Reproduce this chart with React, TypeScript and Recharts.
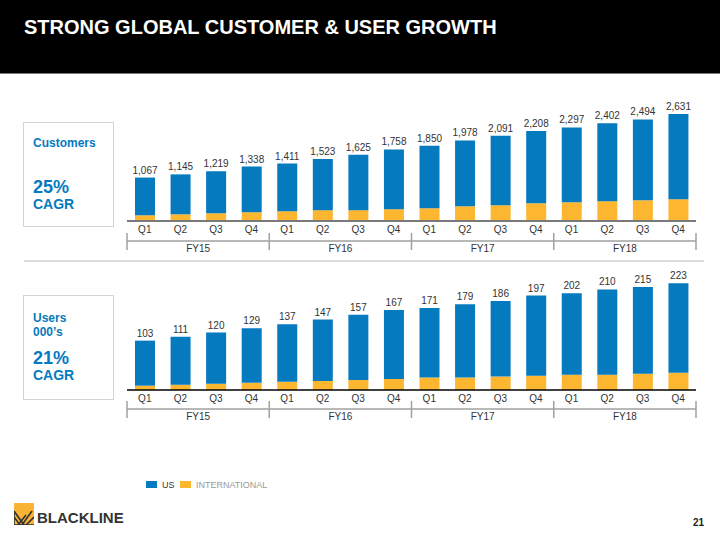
import { BarChart, Bar, XAxis, YAxis, LabelList } from "recharts";

const quarters = ["Q1", "Q2", "Q3", "Q4", "Q1", "Q2", "Q3", "Q4", "Q1", "Q2", "Q3", "Q4", "Q1", "Q2", "Q3", "Q4"];
const fiscalYears = ["FY15", "FY16", "FY17", "FY18"];

const customersTotal = [1067, 1145, 1219, 1338, 1411, 1523, 1625, 1758, 1850, 1978, 2091, 2208, 2297, 2402, 2494, 2631];
const customersIntl = [140, 165, 190, 215, 240, 265, 265, 290, 313, 362, 387, 436, 461, 486, 510, 535];

const usersTotal = [103, 111, 120, 129, 137, 147, 157, 167, 171, 179, 186, 197, 202, 210, 215, 223];
const usersIntl = [9, 11, 13, 15, 17, 19, 21, 23, 26, 26, 28, 30, 32, 32, 34, 36];

const BLUE = "#057ABF";
const YELLOW = "#FDB62F";
const FONT = "'Liberation Sans', Arial, Helvetica, sans-serif";

const CHART_W = 720;
const M_LEFT = 127;
const M_RIGHT = 24;
const BAND = (CHART_W - M_LEFT - M_RIGHT) / quarters.length;

const build = (total: number[], intl: number[]) =>
  quarters.map((q, i) => ({
    q,
    fy: fiscalYears[Math.floor(i / 4)],
    total: total[i],
    intl: intl[i],
    us: total[i] - intl[i],
  }));

const QTick = (props: any) => {
  const { x, y, payload } = props;
  return (
    <text x={x} y={y + 12} textAnchor="middle" fontSize={10} fill="#333" fontFamily={FONT}>
      {payload.value}
    </text>
  );
};

const FyTick = (props: any) => {
  const { x, y, index } = props;
  const stroke = "#a0a0a0";
  return (
    <g>
      {index % 4 === 0 && (
        <line x1={x - BAND / 2} x2={x - BAND / 2} y1={y - 8} y2={y + 9} stroke={stroke} strokeWidth={1.5} />
      )}
      {index === quarters.length - 1 && (
        <line x1={x + BAND / 2} x2={x + BAND / 2} y1={y - 8} y2={y + 9} stroke={stroke} strokeWidth={1.5} />
      )}
      {index % 4 === 1 && (
        <text x={x + BAND / 2} y={y + 11} textAnchor="middle" fontSize={10} fill="#333" fontFamily={FONT}>
          {fiscalYears[Math.floor(index / 4)]}
        </text>
      )}
    </g>
  );
};

type ChartProps = {
  data: any[];
  top: number;
  height: number;
  margin: { top: number; bottom: number };
  max: number;
  axisColor: string;
  axisWidth: number;
  qHeight: number;
  fyHeight: number;
};

function GrowthChart({ data, top, height, margin, max, axisColor, axisWidth, qHeight, fyHeight }: ChartProps) {
  return (
    <div style={{ position: "absolute", left: 0, top }}>
      <BarChart
        width={CHART_W}
        height={height}
        data={data}
        margin={{ top: margin.top, bottom: margin.bottom, left: M_LEFT, right: M_RIGHT }}
        barSize={20}
      >
        <YAxis hide domain={[0, max]} />
        <XAxis
          dataKey="q"
          interval={0}
          tickLine={false}
          tickSize={0}
          tickMargin={0}
          height={qHeight}
          axisLine={{ stroke: axisColor, strokeWidth: axisWidth }}
          tick={<QTick />}
        />
        <XAxis
          xAxisId="fy"
          dataKey="q"
          interval={0}
          tickLine={false}
          tickSize={0}
          tickMargin={0}
          height={fyHeight}
          axisLine={{ stroke: "#a0a0a0", strokeWidth: 1.5 }}
          tick={<FyTick />}
        />
        <Bar dataKey="intl" stackId="a" fill={YELLOW} isAnimationActive={false} />
        <Bar dataKey="us" stackId="a" fill={BLUE} isAnimationActive={false}>
          <LabelList
            dataKey="total"
            position="top"
            offset={4}
            fontSize={10}
            fill="#333"
            fontFamily={FONT}
            formatter={(v: any) => Number(v).toLocaleString("en-US")}
          />
        </Bar>
      </BarChart>
    </div>
  );
}

const boxText = (top: number, size: number, text: string) => (
  <div
    style={{
      position: "absolute",
      left: 33,
      top: top - size / 2,
      fontSize: size,
      lineHeight: `${size}px`,
      fontWeight: "bold",
      color: BLUE,
      whiteSpace: "nowrap",
    }}
  >
    {text}
  </div>
);

export default function App() {
  const customers = build(customersTotal, customersIntl);
  const users = build(usersTotal, usersIntl);

  return (
    <div
      style={{
        position: "absolute",
        left: 0,
        top: 0,
        width: 720,
        height: 540,
        background: "#fff",
        overflow: "hidden",
        fontFamily: FONT,
      }}
    >
      <div style={{ position: "absolute", left: 0, top: 0, width: 720, height: 73, background: "#000", borderBottom: "1px solid #777" }} />
      <div
        style={{
          position: "absolute",
          left: 24,
          top: 17,
          fontSize: 20,
          lineHeight: "21px",
          fontWeight: "bold",
          color: "#fff",
          whiteSpace: "nowrap",
        }}
      >
        STRONG GLOBAL CUSTOMER &amp; USER GROWTH
      </div>

      <div style={{ position: "absolute", left: 23, top: 122, width: 89, height: 103, border: "1.5px solid #d4d4d4" }} />
      {boxText(143, 12, "Customers")}
      {boxText(187, 18, "25%")}
      {boxText(204, 14, "CAGR")}

      <div style={{ position: "absolute", left: 23, top: 295, width: 89, height: 103, border: "1.5px solid #d4d4d4" }} />
      {boxText(318, 12, "Users")}
      {boxText(332, 12, "000\u2019s")}
      {boxText(358, 18, "21%")}
      {boxText(375, 14, "CAGR")}

      <div style={{ position: "absolute", left: 24, top: 260, width: 680, height: 2, background: "#dcdcdc" }} />

      <GrowthChart
        data={customers}
        top={0}
        height={270}
        margin={{ top: 107, bottom: 1 }}
        max={2800}
        axisColor="#7a7a7a"
        axisWidth={2}
        qHeight={20}
        fyHeight={28}
      />
      <GrowthChart
        data={users}
        top={260}
        height={180}
        margin={{ top: 15, bottom: 5 }}
        max={240}
        axisColor="#000"
        axisWidth={1.5}
        qHeight={19}
        fyHeight={26}
      />

      <div style={{ position: "absolute", left: 146, top: 481, width: 11, height: 7, background: BLUE }} />
      <div style={{ position: "absolute", left: 162, top: 480, fontSize: 9, lineHeight: "10px", color: "#333" }}>US</div>
      <div style={{ position: "absolute", left: 180, top: 481, width: 11, height: 7, background: YELLOW }} />
      <div style={{ position: "absolute", left: 196, top: 480, fontSize: 9, lineHeight: "10px", color: "#999" }}>INTERNATIONAL</div>

      <svg style={{ position: "absolute", left: 14, top: 503 }} width={20} height={22}>
        <rect x={0} y={0} width={20} height={22} fill="#F9B233" />
        <g stroke="#333" strokeWidth={1.6} fill="none">
          <line x1={0} y1={22} x2={0} y2={8} />
          <line x1={0} y1={8} x2={10} y2={22} />
          <line x1={0} y1={14} x2={6} y2={22} />
          <line x1={4} y1={22} x2={12} y2={12} />
          <line x1={8} y1={22} x2={18} y2={8} />
          <line x1={12} y1={22} x2={20} y2={14} />
          <line x1={0} y1={22} x2={20} y2={22} />
        </g>
      </svg>
      <div
        style={{
          position: "absolute",
          left: 37,
          top: 510,
          fontSize: 15,
          lineHeight: "16px",
          fontWeight: "bold",
          color: "#333",
          letterSpacing: 0,
        }}
      >
        BLACKLINE
      </div>
      <div style={{ position: "absolute", left: 693, top: 517, fontSize: 10, lineHeight: "11px", fontWeight: "bold", color: "#222" }}>
        21
      </div>
    </div>
  );
}
